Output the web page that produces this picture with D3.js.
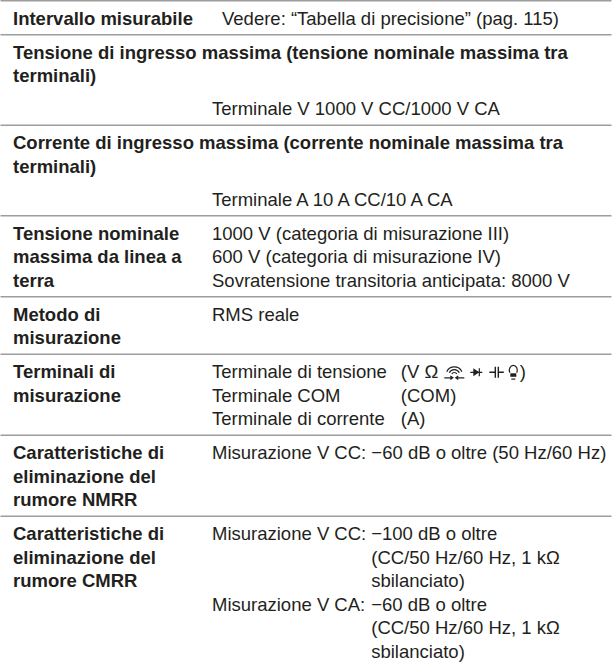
<!DOCTYPE html>
<html><head><meta charset="utf-8">
<script src="https://cdn.jsdelivr.net/npm/d3@7"></script>
<style>body{margin:0;background:#fff}svg{display:block}</style>
</head><body>
<svg id="c" width="612" height="671"></svg>
<script>
// ---- table content ----
const rowLabels = [
  ["Intervallo misurabile"],
  ["Tensione di ingresso massima (tensione nominale massima tra", "terminali)"],
  ["Corrente di ingresso massima (corrente nominale massima tra", "terminali)"],
  ["Tensione nominale", "massima da linea a", "terra"],
  ["Metodo di", "misurazione"],
  ["Terminali di", "misurazione"],
  ["Caratteristiche di", "eliminazione del", "rumore NMRR"],
  ["Caratteristiche di", "eliminazione del", "rumore CMRR"]
];
const rowValues = [
  ["Vedere: \u201cTabella di precisione\u201d (pag. 115)"],
  ["Terminale V 1000 V CC/1000 V CA"],
  ["Terminale A 10 A CC/10 A CA"],
  ["1000 V (categoria di misurazione III)", "600 V (categoria di misurazione IV)", "Sovratensione transitoria anticipata: 8000 V"],
  ["RMS reale"],
  ["Terminale di tensione", "Terminale COM", "Terminale di corrente"],
  ["Misurazione V CC: \u221260 dB o oltre (50 Hz/60 Hz)"],
  ["Misurazione V CC:", "", "", "Misurazione V CA:", "", ""]
];
const rowSubValues = [
  [], [], [], [], [],
  ["(V \u03a9", "(COM)", "(A)"],
  [],
  ["\u2212100 dB o oltre", "(CC/50 Hz/60 Hz, 1 k\u03a9", "sbilanciato)", "\u221260 dB o oltre", "(CC/50 Hz/60 Hz, 1 k\u03a9", "sbilanciato)"]
];
const valueBelowLabel = [false, true, true, false, false, false, false, false];
const terminalIconsRow = 5;

// ---- layout ----
const W = 612;
const fontSize = 18.5;
const lineH = 23.5;
const firstBase = 24;
const bottomPad = 10;
const belowGap = 33;
const labelX = 13, valueX = 212, valueXFirst = 222;
const subGap = [0, 0, 0, 0, 0, 14, 0, 5];
const ink = "#231f20";
const font = "'Liberation Sans', Arial, Helvetica, sans-serif";

const svg = d3.select("#c");

let y = 0.8;
const rows = rowLabels.map((lab, i) => {
  const vals = rowValues[i], subs = rowSubValues[i];
  const valueStart = valueBelowLabel[i] ? (lab.length - 1) * lineH + belowGap : 0;
  const labelEnd = (lab.length - 1) * lineH;
  const valEnd = valueStart + (Math.max(vals.length, subs.length) - 1) * lineH;
  const h = firstBase + Math.max(labelEnd, valEnd) + bottomPad;
  const r = {i, top: y, lab, vals, subs, valueStart, h};
  y += h;
  return r;
});

const ruleYs = [rows[0].top].concat(rows.slice(0, -1).map(r => r.top + r.h));
svg.selectAll("line.rule").data(ruleYs).join("line")
  .attr("class", "rule")
  .attr("x1", 0.5).attr("x2", W - 0.5)
  .attr("y1", d => d).attr("y2", d => d)
  .attr("stroke", "#9d9d9d").attr("stroke-width", 1.6);

const g = svg.selectAll("g.row").data(rows).join("g").attr("class", "row")
  .attr("transform", d => `translate(0,${d.top + firstBase})`);

g.selectAll("text.lab").data(d => d.lab.map((t, k) => ({t, k}))).join("text")
  .attr("class", "lab")
  .attr("x", labelX).attr("y", d => d.k * lineH)
  .attr("font-family", font).attr("font-size", fontSize).attr("font-weight", "bold")
  .attr("fill", ink).text(d => d.t);

g.selectAll("text.val").data(d => d.vals.map((t, k) => ({t, k, r: d}))).join("text")
  .attr("class", "val")
  .attr("x", d => d.r.i === 0 ? valueXFirst : valueX)
  .attr("y", d => d.r.valueStart + d.k * lineH)
  .attr("font-family", font).attr("font-size", fontSize)
  .attr("fill", ink).text(d => d.t);

g.each(function (d) {
  if (!d.subs.length) return;
  const w = d3.max(d3.select(this).selectAll("text.val").nodes(), n => n.getComputedTextLength());
  d.subX = valueX + w + subGap[d.i];
});

g.selectAll("text.sub").data(d => d.subs.map((t, k) => ({t, k, r: d}))).join("text")
  .attr("class", "sub")
  .attr("x", d => d.r.subX)
  .attr("y", d => d.r.valueStart + d.k * lineH)
  .attr("font-family", font).attr("font-size", fontSize)
  .attr("fill", ink).text(d => d.t);

// terminal icons after "(V Ω"
const rowG = g.filter(d => d.i === terminalIconsRow);
const firstSub = rowG.select("text.sub");
const x0 = rowG.datum().subX + firstSub.node().getComputedTextLength() + 6;
const ic = rowG.append("g").attr("fill", "none").attr("stroke", ink).attr("stroke-width", 1.2);
// continuity (buzzer) symbol
const cx = x0 + 10, cy = -3;
[2.8, 5.6, 8.4].forEach(r => {
  ic.append("path").attr("d", d3.arc()({innerRadius: r, outerRadius: r, startAngle: -Math.PI / 2 + 0.45, endAngle: Math.PI / 2 - 0.45}))
    .attr("transform", `translate(${cx},${cy})`);
});
ic.append("path").attr("d", `M${x0},-0.5H${x0 + 8.5}M${x0 + 11.5},-0.5H${x0 + 20}M${x0 + 6},-2.2L${x0 + 8.5},-0.5L${x0 + 6},1.2M${x0 + 14},-2.2L${x0 + 11.5},-0.5L${x0 + 14},1.2`);
// diode
const x1 = x0 + 26;
ic.append("path").attr("d", `M${x1},-6H${x1 + 12}M${x1 + 9},-10V-2`);
ic.append("path").attr("d", `M${x1 + 3},-10L${x1 + 9},-6L${x1 + 3},-2Z`).attr("fill", ink).attr("stroke", "none");
// capacitor
const x2 = x1 + 19;
ic.append("path").attr("d", `M${x2},-6H${x2 + 5.5}M${x2 + 6},-11.5V-0.5M${x2 + 9},-11.5V-0.5M${x2 + 9},-6H${x2 + 14.5}`).attr("stroke-width", 1.4);
// bulb-like symbol
const x3 = x2 + 19.5;
ic.append("path").attr("d", `M${x3 + 1},-5.5A4,5 0 1 1 ${x3 + 8},-5.5`);
ic.append("path").attr("d", `M${x3 + 1.5},-5H${x3 + 7.5}V-1.5H${x3 + 1.5}Z`).attr("fill", ink).attr("stroke", "none");
ic.append("path").attr("d", `M${x3 + 2.5},0.8H${x3 + 6.5}`);
rowG.append("text").attr("x", x3 + 11).attr("y", 0)
  .attr("font-family", font).attr("font-size", fontSize).attr("fill", ink).text(")");
</script>
</body></html>
